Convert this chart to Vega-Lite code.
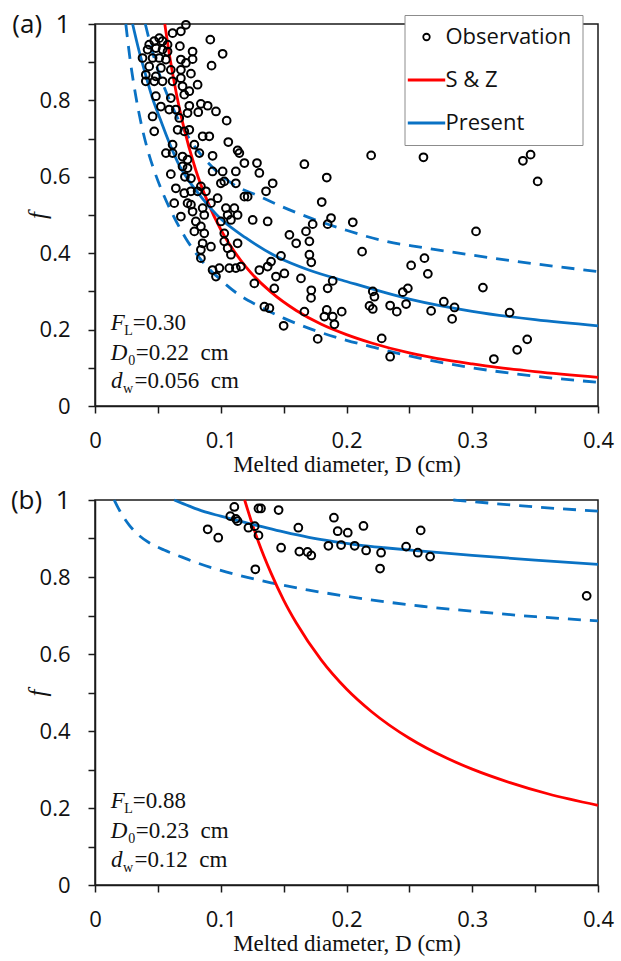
{
 "$schema": "https://vega.github.io/schema/vega-lite/v6.json",
 "background": "white",
 "padding": {"left": 9, "top": 10, "right": 5, "bottom": 3},
 "spacing": 9,
 "config": {
  "view": {"stroke": "#1a1a1a", "strokeWidth": 1.5},
  "axis": {"grid": false, "domainColor": "#1a1a1a", "domainWidth": 1.5, "tickColor": "#1a1a1a", "tickWidth": 1.5, "tickSize": 7, "labelFont": "Open Sans", "labelFontSize": 22, "labelColor": "#111111", "labelFlush": false, "labelOverlap": false, "titleFont": "Liberation Serif", "titleFontSize": 23, "titleFontWeight": "normal", "titleColor": "#111111"}
 },
 "resolve": {"scale": {"color": "independent"}, "legend": {"color": "independent"}},
 "datasets": {
  "obsA": [
   {"D":0.0723,"f":0.998},{"D":0.0617,"f":0.976},{"D":0.0683,"f":0.981},{"D":0.0675,"f":0.942},{"D":0.0511,"f":0.963},{"D":0.0471,"f":0.955},{"D":0.0537,"f":0.955},{"D":0.0577,"f":0.946},{"D":0.0431,"f":0.946},{"D":0.0418,"f":0.933},{"D":0.0484,"f":0.937},{"D":0.0537,"f":0.933},{"D":0.0577,"f":0.928},{"D":0.0378,"f":0.911},{"D":0.0458,"f":0.911},{"D":0.0511,"f":0.911},{"D":0.0564,"f":0.907},{"D":0.0683,"f":0.907},{"D":0.0431,"f":0.889},{"D":0.0524,"f":0.885},{"D":0.0603,"f":0.880},{"D":0.0683,"f":0.880},{"D":0.0723,"f":0.898},{"D":0.0404,"f":0.867},{"D":0.0484,"f":0.863},{"D":0.0683,"f":0.858},{"D":0.0696,"f":0.837},{"D":0.0404,"f":0.850},{"D":0.0471,"f":0.850},{"D":0.0537,"f":0.850},{"D":0.0617,"f":0.850},{"D":0.0484,"f":0.811},{"D":0.0603,"f":0.806},{"D":0.071,"f":0.815},{"D":0.0524,"f":0.784},{"D":0.059,"f":0.776},{"D":0.0643,"f":0.776},{"D":0.0458,"f":0.758},{"D":0.0471,"f":0.719},{"D":0.067,"f":0.754},{"D":0.0657,"f":0.723},{"D":0.071,"f":0.719},{"D":0.0617,"f":0.684},{"D":0.0564,"f":0.662},{"D":0.0617,"f":0.662},{"D":0.0696,"f":0.653},{"D":0.0736,"f":0.645},
   {"D":0.0917,"f":0.959},{"D":0.1015,"f":0.922},{"D":0.0927,"f":0.891},{"D":0.0776,"f":0.928},{"D":0.0776,"f":0.908},{"D":0.0763,"f":0.870},{"D":0.0816,"f":0.841},{"D":0.075,"f":0.824},{"D":0.075,"f":0.786},{"D":0.0842,"f":0.791},{"D":0.0896,"f":0.786},{"D":0.0821,"f":0.769},{"D":0.0962,"f":0.771},{"D":0.1047,"f":0.747},{"D":0.0736,"f":0.767},{"D":0.075,"f":0.723},{"D":0.0856,"f":0.706},{"D":0.0909,"f":0.706},{"D":0.079,"f":0.684},{"D":0.106,"f":0.691},{"D":0.1134,"f":0.669},{"D":0.1148,"f":0.662},{"D":0.083,"f":0.662},{"D":0.0935,"f":0.655},{"D":0.1188,"f":0.636},{"D":0.1288,"f":0.636},
   {"D":0.0603,"f":0.607},{"D":0.0696,"f":0.627},{"D":0.0643,"f":0.570},{"D":0.071,"f":0.557},{"D":0.063,"f":0.531},{"D":0.0736,"f":0.531},{"D":0.0683,"f":0.496},{"D":0.0715,"f":0.600},
   {"D":0.0935,"f":0.614},{"D":0.1015,"f":0.614},{"D":0.112,"f":0.614},{"D":0.1307,"f":0.610},{"D":0.1001,"f":0.583},{"D":0.1028,"f":0.588},{"D":0.112,"f":0.583},{"D":0.136,"f":0.562},{"D":0.1413,"f":0.583},{"D":0.0736,"f":0.623},{"D":0.0763,"f":0.596},{"D":0.0842,"f":0.575},{"D":0.0882,"f":0.562},{"D":0.0763,"f":0.562},{"D":0.0816,"f":0.562},{"D":0.0922,"f":0.531},{"D":0.0975,"f":0.544},{"D":0.1188,"f":0.548},{"D":0.1214,"f":0.548},{"D":0.0763,"f":0.527},{"D":0.0776,"f":0.509},{"D":0.0856,"f":0.518},{"D":0.0869,"f":0.500},{"D":0.1041,"f":0.518},{"D":0.1108,"f":0.518},{"D":0.1055,"f":0.500},{"D":0.1134,"f":0.500},{"D":0.1001,"f":0.483},{"D":0.1081,"f":0.487},{"D":0.1254,"f":0.487},{"D":0.1373,"f":0.483},{"D":0.0802,"f":0.483},{"D":0.0842,"f":0.470},{"D":0.079,"f":0.457},{"D":0.0869,"f":0.452},{"D":0.1028,"f":0.452},{"D":0.0856,"f":0.426},{"D":0.0922,"f":0.417},{"D":0.0842,"f":0.409},{"D":0.0842,"f":0.387},{"D":0.1028,"f":0.431},{"D":0.1055,"f":0.413},{"D":0.1081,"f":0.396},{"D":0.1134,"f":0.426},{"D":0.0935,"f":0.356},{"D":0.0989,"f":0.361},{"D":0.1068,"f":0.361},{"D":0.112,"f":0.361},{"D":0.116,"f":0.365},{"D":0.0962,"f":0.339},{"D":0.140,"f":0.378},{"D":0.1307,"f":0.356},{"D":0.1373,"f":0.365},{"D":0.1439,"f":0.339},{"D":0.1267,"f":0.321},{"D":0.1347,"f":0.260},{"D":0.1387,"f":0.256},
   {"D":0.1426,"f":0.308},{"D":0.1479,"f":0.393},{"D":0.1506,"f":0.347},{"D":0.1638,"f":0.334},{"D":0.150,"f":0.210},{"D":0.1665,"f":0.247},{"D":0.1546,"f":0.448},{"D":0.160,"f":0.426},{"D":0.1678,"f":0.457},{"D":0.1705,"f":0.431},{"D":0.1705,"f":0.396},{"D":0.172,"f":0.376},{"D":0.172,"f":0.303},{"D":0.1718,"f":0.283},{"D":0.1665,"f":0.633},
   {"D":0.2196,"f":0.656},{"D":0.2612,"f":0.651},{"D":0.3403,"f":0.642},{"D":0.3464,"f":0.658},{"D":0.352,"f":0.588},{"D":0.1843,"f":0.598},{"D":0.1803,"f":0.534},{"D":0.1877,"f":0.492},{"D":0.205,"f":0.481},{"D":0.1731,"f":0.476},{"D":0.185,"f":0.476},{"D":0.303,"f":0.457},{"D":0.2124,"f":0.404},{"D":0.262,"f":0.387},{"D":0.2514,"f":0.368},{"D":0.2647,"f":0.346},{"D":0.189,"f":0.3275},{"D":0.185,"f":0.308},{"D":0.3085,"f":0.310},{"D":0.2209,"f":0.300},{"D":0.2222,"f":0.286},{"D":0.2448,"f":0.298},{"D":0.2488,"f":0.308},{"D":0.2183,"f":0.262},{"D":0.2209,"f":0.254},{"D":0.2347,"f":0.263},{"D":0.240,"f":0.247},{"D":0.2474,"f":0.267},{"D":0.2774,"f":0.273},{"D":0.2859,"f":0.258},{"D":0.284,"f":0.228},{"D":0.2673,"f":0.249},{"D":0.3297,"f":0.2445},{"D":0.1843,"f":0.2516},{"D":0.1824,"f":0.234},{"D":0.189,"f":0.234},{"D":0.1904,"f":0.214},{"D":0.1962,"f":0.247},{"D":0.1771,"f":0.1756},{"D":0.228,"f":0.177},{"D":0.2347,"f":0.129},{"D":0.3172,"f":0.123},{"D":0.3357,"f":0.147},{"D":0.3437,"f":0.1745}
  ],
  "obsB": [
   {"D":0.0896,"f":0.924},{"D":0.098,"f":0.902},{"D":0.1076,"f":0.958},{"D":0.1108,"f":0.982},{"D":0.112,"f":0.951},{"D":0.1134,"f":0.945},{"D":0.122,"f":0.928},{"D":0.127,"f":0.932},{"D":0.130,"f":0.908},{"D":0.1275,"f":0.820},{"D":0.130,"f":0.978},{"D":0.132,"f":0.978},{"D":0.146,"f":0.974},{"D":0.148,"f":0.876},{"D":0.1617,"f":0.928},{"D":0.1625,"f":0.866},{"D":0.169,"f":0.865},{"D":0.172,"f":0.856},{"D":0.1856,"f":0.881},{"D":0.190,"f":0.954},{"D":0.193,"f":0.919},{"D":0.1957,"f":0.883},{"D":0.201,"f":0.915},{"D":0.2065,"f":0.881},{"D":0.2135,"f":0.9325},{"D":0.2156,"f":0.869},{"D":0.2275,"f":0.863},{"D":0.2267,"f":0.822},{"D":0.2474,"f":0.879},{"D":0.2567,"f":0.863},{"D":0.259,"f":0.921},{"D":0.2665,"f":0.853},{"D":0.391,"f":0.751}
  ],
  "curvesA": [
   {"model":"S & Z","band":"central","D":0.0555,"f":1.0},{"model":"S & Z","band":"central","D":0.06,"f":0.903},{"model":"S & Z","band":"central","D":0.065,"f":0.813},{"model":"S & Z","band":"central","D":0.07,"f":0.738},{"model":"S & Z","band":"central","D":0.08,"f":0.619},{"model":"S & Z","band":"central","D":0.09,"f":0.531},{"model":"S & Z","band":"central","D":0.1,"f":0.462},{"model":"S & Z","band":"central","D":0.12,"f":0.364},{"model":"S & Z","band":"central","D":0.14,"f":0.298},{"model":"S & Z","band":"central","D":0.16,"f":0.250},{"model":"S & Z","band":"central","D":0.18,"f":0.214},{"model":"S & Z","band":"central","D":0.2,"f":0.187},{"model":"S & Z","band":"central","D":0.22,"f":0.165},{"model":"S & Z","band":"central","D":0.25,"f":0.139},{"model":"S & Z","band":"central","D":0.28,"f":0.120},{"model":"S & Z","band":"central","D":0.3,"f":0.110},{"model":"S & Z","band":"central","D":0.32,"f":0.101},{"model":"S & Z","band":"central","D":0.35,"f":0.090},{"model":"S & Z","band":"central","D":0.4,"f":0.075},
   {"model":"Present","band":"central","D":0.0299,"f":1.0},{"model":"Present","band":"central","D":0.035,"f":0.93},{"model":"Present","band":"central","D":0.04,"f":0.87},{"model":"Present","band":"central","D":0.0458,"f":0.805},{"model":"Present","band":"central","D":0.052,"f":0.75},{"model":"Present","band":"central","D":0.059,"f":0.69},{"model":"Present","band":"central","D":0.067,"f":0.63},{"model":"Present","band":"central","D":0.075,"f":0.588},{"model":"Present","band":"central","D":0.085,"f":0.545},{"model":"Present","band":"central","D":0.1,"f":0.49},{"model":"Present","band":"central","D":0.12,"f":0.44},{"model":"Present","band":"central","D":0.145,"f":0.39},{"model":"Present","band":"central","D":0.17,"f":0.356},{"model":"Present","band":"central","D":0.2,"f":0.326},{"model":"Present","band":"central","D":0.25,"f":0.28},{"model":"Present","band":"central","D":0.3,"f":0.248},{"model":"Present","band":"central","D":0.35,"f":0.226},{"model":"Present","band":"central","D":0.4,"f":0.21},
   {"model":"Present","band":"upper","D":0.04,"f":1.0},{"model":"Present","band":"upper","D":0.045,"f":0.935},{"model":"Present","band":"upper","D":0.05,"f":0.88},{"model":"Present","band":"upper","D":0.055,"f":0.835},{"model":"Present","band":"upper","D":0.06,"f":0.795},{"model":"Present","band":"upper","D":0.067,"f":0.745},{"model":"Present","band":"upper","D":0.075,"f":0.70},{"model":"Present","band":"upper","D":0.085,"f":0.655},{"model":"Present","band":"upper","D":0.095,"f":0.62},{"model":"Present","band":"upper","D":0.11,"f":0.58},{"model":"Present","band":"upper","D":0.13,"f":0.55},{"model":"Present","band":"upper","D":0.15,"f":0.52},{"model":"Present","band":"upper","D":0.173,"f":0.49},{"model":"Present","band":"upper","D":0.2,"f":0.46},{"model":"Present","band":"upper","D":0.23,"f":0.432},{"model":"Present","band":"upper","D":0.26,"f":0.415},{"model":"Present","band":"upper","D":0.3,"f":0.395},{"model":"Present","band":"upper","D":0.35,"f":0.372},{"model":"Present","band":"upper","D":0.4,"f":0.352},
   {"model":"Present","band":"lower","D":0.0245,"f":1.0},{"model":"Present","band":"lower","D":0.028,"f":0.905},{"model":"Present","band":"lower","D":0.0325,"f":0.81},{"model":"Present","band":"lower","D":0.037,"f":0.735},{"model":"Present","band":"lower","D":0.0415,"f":0.675},{"model":"Present","band":"lower","D":0.047,"f":0.617},{"model":"Present","band":"lower","D":0.054,"f":0.557},{"model":"Present","band":"lower","D":0.062,"f":0.50},{"model":"Present","band":"lower","D":0.072,"f":0.44},{"model":"Present","band":"lower","D":0.085,"f":0.38},{"model":"Present","band":"lower","D":0.1,"f":0.33},{"model":"Present","band":"lower","D":0.115,"f":0.29},{"model":"Present","band":"lower","D":0.13,"f":0.262},{"model":"Present","band":"lower","D":0.15,"f":0.23},{"model":"Present","band":"lower","D":0.173,"f":0.2},{"model":"Present","band":"lower","D":0.2,"f":0.172},{"model":"Present","band":"lower","D":0.22,"f":0.155},{"model":"Present","band":"lower","D":0.25,"f":0.131},{"model":"Present","band":"lower","D":0.3,"f":0.1},{"model":"Present","band":"lower","D":0.35,"f":0.078},{"model":"Present","band":"lower","D":0.4,"f":0.062}
  ],
  "curvesB": [
   {"model":"S & Z","band":"central","D":0.119,"f":1.0},{"model":"S & Z","band":"central","D":0.125,"f":0.938},{"model":"S & Z","band":"central","D":0.13,"f":0.891},{"model":"S & Z","band":"central","D":0.14,"f":0.810},{"model":"S & Z","band":"central","D":0.15,"f":0.740},{"model":"S & Z","band":"central","D":0.16,"f":0.681},{"model":"S & Z","band":"central","D":0.18,"f":0.584},{"model":"S & Z","band":"central","D":0.2,"f":0.509},{"model":"S & Z","band":"central","D":0.22,"f":0.450},{"model":"S & Z","band":"central","D":0.25,"f":0.381},{"model":"S & Z","band":"central","D":0.28,"f":0.329},{"model":"S & Z","band":"central","D":0.3,"f":0.301},{"model":"S & Z","band":"central","D":0.33,"f":0.266},{"model":"S & Z","band":"central","D":0.36,"f":0.237},{"model":"S & Z","band":"central","D":0.4,"f":0.207},
   {"model":"Present","band":"central","D":0.063,"f":1.0},{"model":"Present","band":"central","D":0.075,"f":0.984},{"model":"Present","band":"central","D":0.0856,"f":0.971},{"model":"Present","band":"central","D":0.1,"f":0.958},{"model":"Present","band":"central","D":0.115,"f":0.945},{"model":"Present","band":"central","D":0.13,"f":0.933},{"model":"Present","band":"central","D":0.15,"f":0.917},{"model":"Present","band":"central","D":0.17,"f":0.903},{"model":"Present","band":"central","D":0.19,"f":0.892},{"model":"Present","band":"central","D":0.21,"f":0.883},{"model":"Present","band":"central","D":0.23,"f":0.876},{"model":"Present","band":"central","D":0.26,"f":0.867},{"model":"Present","band":"central","D":0.3,"f":0.856},{"model":"Present","band":"central","D":0.35,"f":0.844},{"model":"Present","band":"central","D":0.4,"f":0.833},
   {"model":"Present","band":"upper","D":0.285,"f":1.0},{"model":"Present","band":"upper","D":0.3,"f":0.996},{"model":"Present","band":"upper","D":0.32,"f":0.99},{"model":"Present","band":"upper","D":0.35,"f":0.982},{"model":"Present","band":"upper","D":0.4,"f":0.971},
   {"model":"Present","band":"lower","D":0.0153,"f":1.0},{"model":"Present","band":"lower","D":0.02,"f":0.97},{"model":"Present","band":"lower","D":0.0272,"f":0.935},{"model":"Present","band":"lower","D":0.035,"f":0.908},{"model":"Present","band":"lower","D":0.0431,"f":0.889},{"model":"Present","band":"lower","D":0.055,"f":0.87},{"model":"Present","band":"lower","D":0.065,"f":0.857},{"model":"Present","band":"lower","D":0.08,"f":0.838},{"model":"Present","band":"lower","D":0.095,"f":0.822},{"model":"Present","band":"lower","D":0.115,"f":0.804},{"model":"Present","band":"lower","D":0.14,"f":0.785},{"model":"Present","band":"lower","D":0.17,"f":0.766},{"model":"Present","band":"lower","D":0.2,"f":0.75},{"model":"Present","band":"lower","D":0.23,"f":0.736},{"model":"Present","band":"lower","D":0.26,"f":0.724},{"model":"Present","band":"lower","D":0.3,"f":0.711},{"model":"Present","band":"lower","D":0.35,"f":0.697},{"model":"Present","band":"lower","D":0.4,"f":0.686}
  ],
  "notesA": [
   {"sym":"F","sub":"L","val":"=0.30","D":0.0126,"f":0.199},
   {"sym":"D","sub":"0","val":"=0.22\u00a0\u00a0cm","D":0.0126,"f":0.121},
   {"sym":"d","sub":"w","val":"=0.056\u00a0\u00a0cm","D":0.0128,"f":0.046}
  ],
  "notesB": [
   {"sym":"F","sub":"L","val":"=0.88","D":0.0126,"f":0.199},
   {"sym":"D","sub":"0","val":"=0.23\u00a0\u00a0cm","D":0.0126,"f":0.121},
   {"sym":"d","sub":"w","val":"=0.12\u00a0\u00a0cm","D":0.0128,"f":0.046}
  ]
 },
 "vconcat": [
  {
   "width": 503, "height": 382,
   "encoding": {
    "x": {"field": "D", "type": "quantitative", "scale": {"domain": [0, 0.4], "nice": false},
     "axis": {"values": [0,0.05,0.1,0.15,0.2,0.25,0.3,0.35,0.4], "labelExpr": "round(datum.value*20) % 2 !== 0 ? '' : format(datum.value, '.1~f')", "labelPadding": 17, "title": "Melted diameter, D (cm)", "titlePadding": 2}},
    "y": {"field": "f", "type": "quantitative", "scale": {"domain": [0, 1], "nice": false},
     "axis": {"values": [0,0.1,0.2,0.3,0.4,0.5,0.6,0.7,0.8,0.9,1], "labelExpr": "round(datum.value*10) % 2 !== 0 ? '' : (datum.value === 1 ? '(a)\u00a0 1' : format(datum.value, '.1~f'))", "labelPadding": 18, "labelFontSize": {"condition": {"test": "datum.value === 1", "value": 26}, "value": 22}, "title": "f", "titleFontStyle": "italic", "titleFontSize": 25, "titleX": -45}}
   },
   "layer": [
    {"data": {"name": "curvesA"}, "transform": [{"filter": "datum.band !== 'central'"}],
     "mark": {"type": "line", "interpolate": "monotone", "strokeWidth": 2.8, "strokeDash": [13, 9], "color": "#0A72C4"},
     "encoding": {"detail": {"field": "band", "type": "nominal"}}},
    {"data": {"name": "curvesA"}, "transform": [{"filter": "datum.band === 'central'"}],
     "mark": {"type": "line", "interpolate": "monotone", "strokeWidth": 2.8},
     "encoding": {"color": {"field": "model", "type": "nominal", "scale": {"domain": ["Observation", "S & Z", "Present"], "range": ["#000000", "#FF0000", "#0A72C4"]},
      "legend": {"title": null, "orient": "none", "legendX": 309.5, "legendY": -9, "direction": "vertical", "fillColor": "white", "strokeColor": "#8c8c8c", "padding": 11, "rowPadding": 21, "labelFont": "Open Sans", "labelFontSize": 22, "labelColor": "#111111", "labelOffset": 8, "symbolOffset": 0, "symbolType": "stroke", "symbolSize": 1400, "symbolStrokeWidth": 3,
       "encode": {"symbols": {"update": {"shape": {"signal": "datum.value === 'Observation' ? 'circle' : 'stroke'"}, "size": {"signal": "datum.value === 'Observation' ? 42 : 1400"}, "strokeWidth": {"signal": "datum.value === 'Observation' ? 1.8 : 3"}, "fill": {"value": "transparent"}}}}}}}},
    {"data": {"name": "obsA"},
     "mark": {"type": "point", "shape": "circle", "filled": false, "size": 60, "strokeWidth": 2, "opacity": 1},
     "encoding": {"color": {"datum": "Observation", "type": "nominal", "scale": {"domain": ["Observation", "S & Z", "Present"], "range": ["#000000", "#FF0000", "#0A72C4"]}}}},
    {"data": {"name": "notesA"},
     "mark": {"type": "text", "align": "left", "baseline": "alphabetic", "font": "Liberation Serif", "fontSize": 23, "fontStyle": "italic", "color": "#111111"},
     "encoding": {"text": {"field": "sym"}}},
    {"data": {"name": "notesA"},
     "mark": {"type": "text", "align": "left", "baseline": "alphabetic", "font": "Liberation Serif", "fontSize": 14, "color": "#111111", "dy": 5, "dx": {"expr": "datum.sym === 'F' ? 13.5 : datum.sym === 'D' ? 17.5 : 12"}},
     "encoding": {"text": {"field": "sub"}}},
    {"data": {"name": "notesA"},
     "mark": {"type": "text", "align": "left", "baseline": "alphabetic", "font": "Liberation Serif", "fontSize": 23, "color": "#111111", "dx": {"expr": "datum.sym === 'F' ? 22 : datum.sym === 'D' ? 25 : 23.5"}},
     "encoding": {"text": {"field": "val"}}}
   ]
  },
  {
   "width": 503, "height": 385,
   "encoding": {
    "x": {"field": "D", "type": "quantitative", "scale": {"domain": [0, 0.4], "nice": false},
     "axis": {"values": [0,0.05,0.1,0.15,0.2,0.25,0.3,0.35,0.4], "labelExpr": "round(datum.value*20) % 2 !== 0 ? '' : format(datum.value, '.1~f')", "labelPadding": 17, "title": "Melted diameter, D (cm)", "titlePadding": 2}},
    "y": {"field": "f", "type": "quantitative", "scale": {"domain": [0, 1], "nice": false},
     "axis": {"values": [0,0.1,0.2,0.3,0.4,0.5,0.6,0.7,0.8,0.9,1], "labelExpr": "round(datum.value*10) % 2 !== 0 ? '' : (datum.value === 1 ? '(b)\u00a0 1' : format(datum.value, '.1~f'))", "labelPadding": 18, "labelFontSize": {"condition": {"test": "datum.value === 1", "value": 26}, "value": 22}, "title": "f", "titleFontStyle": "italic", "titleFontSize": 25, "titleX": -45}}
   },
   "layer": [
    {"data": {"name": "curvesB"}, "transform": [{"filter": "datum.band !== 'central'"}],
     "mark": {"type": "line", "interpolate": "monotone", "strokeWidth": 2.8, "strokeDash": [13, 9], "color": "#0A72C4"},
     "encoding": {"detail": {"field": "band", "type": "nominal"}}},
    {"data": {"name": "curvesB"}, "transform": [{"filter": "datum.band === 'central'"}],
     "mark": {"type": "line", "interpolate": "monotone", "strokeWidth": 2.8},
     "encoding": {"color": {"field": "model", "type": "nominal", "scale": {"domain": ["Observation", "S & Z", "Present"], "range": ["#000000", "#FF0000", "#0A72C4"]}, "legend": null}}},
    {"data": {"name": "obsB"},
     "mark": {"type": "point", "shape": "circle", "filled": false, "size": 60, "strokeWidth": 2, "opacity": 1, "color": "#000000"},
     "encoding": {}},
    {"data": {"name": "notesB"},
     "mark": {"type": "text", "align": "left", "baseline": "alphabetic", "font": "Liberation Serif", "fontSize": 23, "fontStyle": "italic", "color": "#111111"},
     "encoding": {"text": {"field": "sym"}}},
    {"data": {"name": "notesB"},
     "mark": {"type": "text", "align": "left", "baseline": "alphabetic", "font": "Liberation Serif", "fontSize": 14, "color": "#111111", "dy": 5, "dx": {"expr": "datum.sym === 'F' ? 13.5 : datum.sym === 'D' ? 17.5 : 12"}},
     "encoding": {"text": {"field": "sub"}}},
    {"data": {"name": "notesB"},
     "mark": {"type": "text", "align": "left", "baseline": "alphabetic", "font": "Liberation Serif", "fontSize": 23, "color": "#111111", "dx": {"expr": "datum.sym === 'F' ? 22 : datum.sym === 'D' ? 25 : 23.5"}},
     "encoding": {"text": {"field": "val"}}}
   ]
  }
 ]
}
